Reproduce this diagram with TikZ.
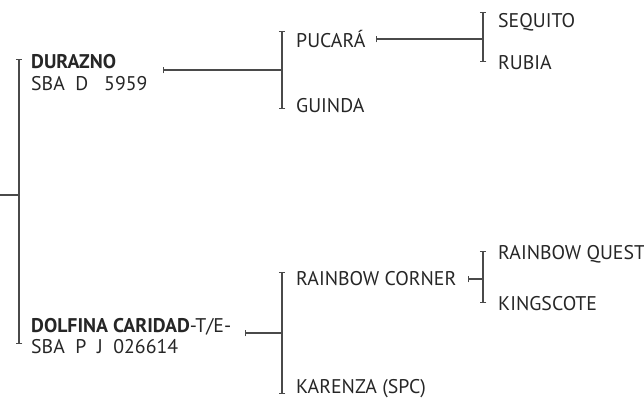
\documentclass[tikz,border=0pt]{standalone}
\usepackage{fontspec}
\setmainfont{PT Sans}
\usetikzlibrary{arrows.meta}
\definecolor{txt}{HTML}{262626}
\definecolor{ln}{HTML}{4A4A4A}
\tikzset{
  lbl/.style={anchor=base west, inner sep=0pt, text=txt, font=\fontsize{19.8}{20}\selectfont},
  bracket/.style={draw=ln, line width=1.3pt, {Bar[width=6.5pt,line width=1.1pt]}-{Bar[width=6.5pt,line width=1.1pt]}},
  link/.style={draw=ln, line width=1.3pt, {Bar[width=6.5pt,line width=1.1pt]}-},
  plain/.style={draw=ln, line width=1.3pt}
}
\begin{document}
\begin{tikzpicture}[x=1pt,y=-1pt]
\useasboundingbox (0,0) rectangle (644,397);
% root
\coordinate (rootL) at (0,195);
\coordinate (r1t) at (19,59);
\coordinate (r1b) at (19,344);
\coordinate (r1m) at (19,195);
\node[lbl] (durazno) at (31,68) {\textbf{DURAZNO}};
\node[lbl] (durazno2) at (31,90) {SBA\ \ D\ \ \ 5959};
\node[lbl] (dolfina) at (31,332) {\textbf{DOLFINA CARIDAD}-T/E-};
\node[lbl] (dolfina2) at (31,353) {SBA\ \ P\ \ J\ \ 026614};
% level 2 upper
\coordinate (c1a) at (163,70);
\coordinate (c1b) at (282,70);
\coordinate (b1t) at (282,31);
\coordinate (b1b) at (282,109);
\node[lbl] (pucara) at (296,47) {PUCARÁ};
\node[lbl] (guinda) at (296,112) {GUINDA};
% level 3 upper
\coordinate (c2a) at (376,39);
\coordinate (c2b) at (483,39);
\coordinate (b2t) at (483,12);
\coordinate (b2b) at (483,62);
\node[lbl] (sequito) at (498,27) {SEQUITO};
\node[lbl] (rubia) at (498,69) {RUBIA};
% level 2 lower
\coordinate (c3a) at (245,333);
\coordinate (c3b) at (282,333);
\coordinate (b3t) at (282,272);
\coordinate (b3b) at (282,394);
\node[lbl] (rcorner) at (296,285) {RAINBOW CORNER};
\node[lbl] (karenza) at (296,393) {KARENZA (SPC)};
% level 3 lower
\coordinate (c4a) at (468,279);
\coordinate (c4b) at (483,279);
\coordinate (b4t) at (483,251);
\coordinate (b4b) at (483,303);
\node[lbl] (rquest) at (498,259) {RAINBOW QUEST};
\node[lbl] (kingscote) at (498,310) {KINGSCOTE};
% lines
\draw[plain] (rootL) -- (r1m);
\draw[bracket] (r1t) -- (r1b);
\draw[link] (c1a) -- (c1b);
\draw[bracket] (b1t) -- (b1b);
\draw[link] (c2a) -- (c2b);
\draw[bracket] (b2t) -- (b2b);
\draw[link] (c3a) -- (c3b);
\draw[bracket] (b3t) -- (b3b);
\draw[link] (c4a) -- (c4b);
\draw[bracket] (b4t) -- (b4b);
\end{tikzpicture}
\end{document}
